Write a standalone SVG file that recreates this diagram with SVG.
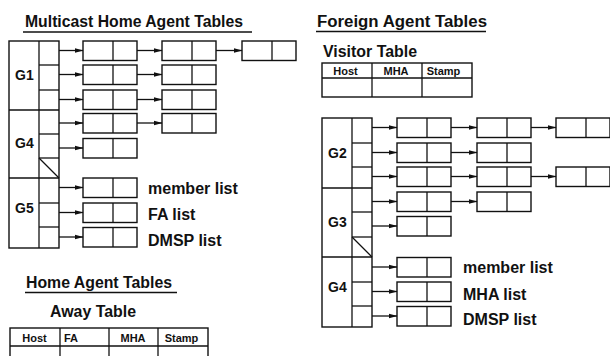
<svg xmlns="http://www.w3.org/2000/svg" width="610" height="356" viewBox="0 0 610 356">
<style>
.b{fill:none;stroke:#111;stroke-width:1.4}
.l{stroke:#111;stroke-width:1.3;fill:none}
.a{stroke:#111;stroke-width:1.3;fill:none;marker-end:url(#ah)}
.t{font-family:"Liberation Sans",Arial,sans-serif;font-weight:bold;fill:#111}
.h{font-size:16px}
.g{font-size:14px}
.s{font-size:11px;text-anchor:middle}
</style>
<defs>
<marker id="ah" markerUnits="userSpaceOnUse" markerWidth="9" markerHeight="6" refX="8.5" refY="3" orient="auto">
<path d="M0,0.6 L9,3 L0,5.4 z" fill="#111"/>
</marker>
<g id="cell"><rect class="b" x="0" y="0" width="54" height="19.5"/><line class="l" x1="30" y1="0" x2="30" y2="19.5"/></g>
</defs>
<rect width="610" height="356" fill="#fff"/>

<!-- Titles -->
<g id="titles">
<text class="t h" x="25" y="27" textLength="218" lengthAdjust="spacingAndGlyphs">Multicast Home Agent Tables</text>
<line class="l" x1="23" y1="32" x2="252" y2="32"/>
<text class="t h" x="26" y="288" textLength="146" lengthAdjust="spacingAndGlyphs">Home Agent Tables</text>
<line class="l" x1="25" y1="292.5" x2="177" y2="292.5"/>
<text class="t h" x="50" y="317" textLength="86" lengthAdjust="spacingAndGlyphs">Away Table</text>
<text class="t h" x="317" y="27" textLength="170" lengthAdjust="spacingAndGlyphs">Foreign Agent Tables</text>
<line class="l" x1="316" y1="31.5" x2="486" y2="31.5"/>
<text class="t h" x="323" y="57" textLength="94" lengthAdjust="spacingAndGlyphs">Visitor Table</text>
</g>

<!-- Away table -->
<g id="away-table">
<rect class="b" x="10" y="328" width="198" height="32"/>
<line class="l" x1="10" y1="346" x2="208" y2="346"/>
<line class="l" x1="60" y1="328" x2="60" y2="360"/>
<line class="l" x1="109" y1="328" x2="109" y2="360"/>
<line class="l" x1="158" y1="328" x2="158" y2="360"/>
<text class="t s" x="34.5" y="342">Host</text>
<text class="t s" x="71" y="342">FA</text>
<text class="t s" x="133" y="342">MHA</text>
<text class="t s" x="181.5" y="342">Stamp</text>
</g>

<!-- Visitor table -->
<g id="visitor-table">
<rect class="b" x="322" y="63" width="150" height="34"/>
<line class="l" x1="322" y1="78" x2="472" y2="78"/>
<line class="l" x1="372" y1="63" x2="372" y2="97"/>
<line class="l" x1="422" y1="63" x2="422" y2="97"/>
<text class="t s" x="345.5" y="75">Host</text>
<text class="t s" x="396" y="75">MHA</text>
<text class="t s" x="443.5" y="75">Stamp</text>
</g>

<!-- Left group table -->
<g id="mha-groups">
<rect class="b" x="9" y="41" width="50" height="207"/>
<line class="l" x1="39" y1="41" x2="39" y2="248"/>
<line class="l" x1="9" y1="110" x2="59" y2="110"/>
<line class="l" x1="9" y1="178" x2="59" y2="178"/>
<line class="l" x1="39" y1="65" x2="59" y2="65"/>
<line class="l" x1="39" y1="90" x2="59" y2="90"/>
<line class="l" x1="39" y1="134" x2="59" y2="134"/>
<line class="l" x1="39" y1="158" x2="59" y2="158"/>
<line class="l" x1="39" y1="158" x2="59" y2="178"/>
<line class="l" x1="39" y1="203" x2="59" y2="203"/>
<line class="l" x1="39" y1="227" x2="59" y2="227"/>
<text class="t g" x="15" y="80">G1</text>
<text class="t g" x="15" y="148">G4</text>
<text class="t g" x="15" y="213">G5</text>
</g>

<!-- Left list entries -->
<g id="L-r1c1"><use href="#cell" x="83" y="41"/></g>
<g id="L-r1c2"><use href="#cell" x="162" y="41"/></g>
<g id="L-r1c3"><use href="#cell" x="242" y="41"/></g>
<g id="L-r2c1"><use href="#cell" x="83" y="65"/></g>
<g id="L-r2c2"><use href="#cell" x="162" y="65"/></g>
<g id="L-r3c1"><use href="#cell" x="83" y="90"/></g>
<g id="L-r3c2"><use href="#cell" x="162" y="90"/></g>
<g id="L-r4c1"><use href="#cell" x="83" y="113.5"/></g>
<g id="L-r4c2"><use href="#cell" x="162" y="113.5"/></g>
<g id="L-r5c1"><use href="#cell" x="83" y="138.5"/></g>
<g id="L-member"><use href="#cell" x="83" y="178"/></g>
<g id="L-fa"><use href="#cell" x="83" y="203"/></g>
<g id="L-dmsp"><use href="#cell" x="83" y="227.5"/></g>
<g id="L-labels">
<text class="t h" x="148" y="194">member list</text>
<text class="t h" x="148" y="220">FA list</text>
<text class="t h" x="148" y="246">DMSP list</text>
</g>

<!-- Right group table -->
<g id="fa-groups">
<rect class="b" x="322" y="118" width="50" height="209"/>
<line class="l" x1="352" y1="118" x2="352" y2="327"/>
<line class="l" x1="322" y1="188" x2="372" y2="188"/>
<line class="l" x1="322" y1="257" x2="372" y2="257"/>
<line class="l" x1="352" y1="143" x2="372" y2="143"/>
<line class="l" x1="352" y1="167" x2="372" y2="167"/>
<line class="l" x1="352" y1="212" x2="372" y2="212"/>
<line class="l" x1="352" y1="237" x2="372" y2="237"/>
<line class="l" x1="352" y1="237" x2="372" y2="257"/>
<line class="l" x1="352" y1="282" x2="372" y2="282"/>
<line class="l" x1="352" y1="306" x2="372" y2="306"/>
<text class="t g" x="328" y="158">G2</text>
<text class="t g" x="328" y="227">G3</text>
<text class="t g" x="328" y="292">G4</text>
</g>

<!-- Right list entries -->
<g id="R-r1c1"><use href="#cell" x="397" y="118" transform="translate(0,0)"/></g>
<g id="R-r1c2"><use href="#cell" x="477" y="118"/></g>
<g id="R-r1c3"><use href="#cell" x="556" y="118"/></g>
<g id="R-r2c1"><use href="#cell" x="397" y="143"/></g>
<g id="R-r2c2"><use href="#cell" x="477" y="143"/></g>
<g id="R-r3c1"><use href="#cell" x="397" y="167"/></g>
<g id="R-r3c2"><use href="#cell" x="477" y="167"/></g>
<g id="R-r3c3"><use href="#cell" x="556" y="167"/></g>
<g id="R-r4c1"><use href="#cell" x="397" y="192"/></g>
<g id="R-r4c2"><use href="#cell" x="477" y="192"/></g>
<g id="R-r5c1"><use href="#cell" x="397" y="216.5"/></g>
<g id="R-member"><use href="#cell" x="397" y="257.5"/></g>
<g id="R-mha"><use href="#cell" x="397" y="282"/></g>
<g id="R-dmsp"><use href="#cell" x="397" y="306.5"/></g>
<g id="R-labels">
<text class="t h" x="463" y="273">member list</text>
<text class="t h" x="463" y="300">MHA list</text>
<text class="t h" x="463" y="325">DMSP list</text>
</g>

<!-- Connectors -->
<g id="connectors">
<line class="a" x1="59" y1="50.5" x2="83" y2="50.5"/>
<line class="a" x1="59" y1="74.5" x2="83" y2="74.5"/>
<line class="a" x1="59" y1="99.5" x2="83" y2="99.5"/>
<line class="a" x1="59" y1="123" x2="83" y2="123"/>
<line class="a" x1="59" y1="148" x2="83" y2="148"/>
<line class="a" x1="59" y1="187.5" x2="83" y2="187.5"/>
<line class="a" x1="59" y1="212.5" x2="83" y2="212.5"/>
<line class="a" x1="59" y1="237" x2="83" y2="237"/>
<line class="a" x1="137" y1="50.5" x2="162" y2="50.5"/>
<line class="a" x1="137" y1="74.5" x2="162" y2="74.5"/>
<line class="a" x1="137" y1="99.5" x2="162" y2="99.5"/>
<line class="a" x1="137" y1="123" x2="162" y2="123"/>
<line class="a" x1="216" y1="50.5" x2="242" y2="50.5"/>

<line class="a" x1="372" y1="127.5" x2="397" y2="127.5"/>
<line class="a" x1="372" y1="152.5" x2="397" y2="152.5"/>
<line class="a" x1="372" y1="176.5" x2="397" y2="176.5"/>
<line class="a" x1="372" y1="201.5" x2="397" y2="201.5"/>
<line class="a" x1="372" y1="226" x2="397" y2="226"/>
<line class="a" x1="372" y1="267" x2="397" y2="267"/>
<line class="a" x1="372" y1="291.5" x2="397" y2="291.5"/>
<line class="a" x1="372" y1="316" x2="397" y2="316"/>
<line class="a" x1="451" y1="127.5" x2="477" y2="127.5"/>
<line class="a" x1="451" y1="152.5" x2="477" y2="152.5"/>
<line class="a" x1="451" y1="176.5" x2="477" y2="176.5"/>
<line class="a" x1="451" y1="201.5" x2="477" y2="201.5"/>
<line class="a" x1="531" y1="127.5" x2="556" y2="127.5"/>
<line class="a" x1="531" y1="176.5" x2="556" y2="176.5"/>
</g>
</svg>
